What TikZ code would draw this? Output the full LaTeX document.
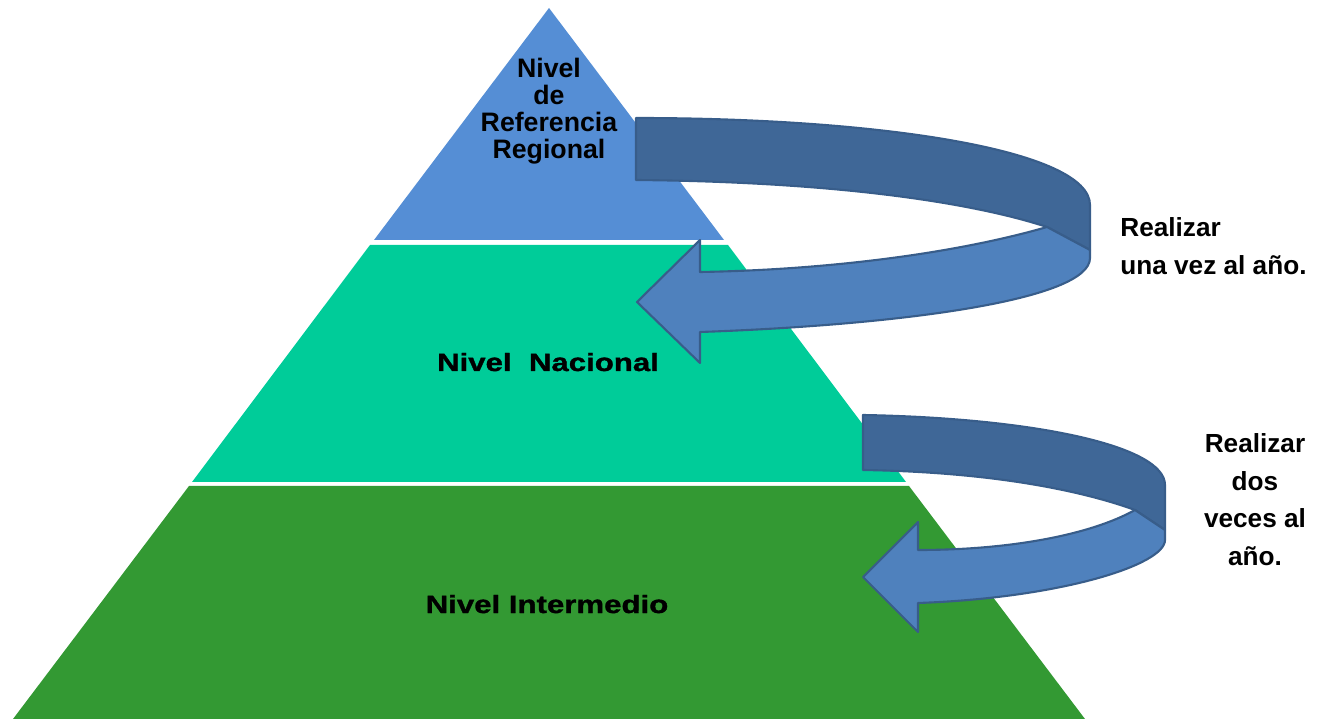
\documentclass[tikz,border=0pt]{standalone}
\usepackage{fontspec}
\setmainfont{Liberation Sans}
\newfontfamily\widefont[FakeStretch=1.25, BoldFeatures={FakeBold=1.3}]{Liberation Sans}
\usepackage{tikz}
\usetikzlibrary{calc}
\definecolor{topblue}{HTML}{558ED5}
\definecolor{midgreen}{HTML}{00CC99}
\definecolor{lowgreen}{HTML}{339933}
\definecolor{bandback}{HTML}{3F6797}
\definecolor{bandfront}{HTML}{4F81BD}
\definecolor{bandline}{HTML}{385D8A}
\tikzset{
  back/.style={fill=bandback, draw=bandline, line width=1.2pt, line join=round},
  front/.style={fill=bandfront, draw=bandline, line width=1.2pt, line join=round},
  lvl/.style={font=\bfseries\fontsize{15.2}{15.3}\selectfont, inner sep=0pt, align=center},
  wide/.style={font=\widefont\bfseries\fontsize{14.2}{16}\selectfont, inner sep=0pt},
  note/.style={font=\bfseries\fontsize{14.9}{21.5}\selectfont, inner sep=0pt}
}

\begin{document}
\begin{tikzpicture}[x=0.02cm, y=-0.02cm]
  \useasboundingbox (0,0) rectangle (1319,719);

  % pyramid
  \coordinate (apex) at (549,8);
  \fill[topblue] (apex) -- (724,240) -- (374,240) -- cycle;
  \fill[midgreen] (370,245) -- (728,245) -- (906,482) -- (192,482) -- cycle;
  \fill[lowgreen] (189,486) -- (909,486) -- (1085,719) -- (13,719) -- cycle;

  % upper turn arrow
  \coordinate (ua) at (636,118);
  \coordinate (uf) at (1047,227);
  \draw[back] (ua) .. controls (880,118) and (1090,150) .. (1090,205)
    -- (1090,250) -- (uf)
    .. controls (980,205) and (850,182) .. (636,180) -- cycle;
  \draw[front] (uf) -- (1090,250) -- (1090,258)
    .. controls (1090,300) and (900,325) .. (700,332)
    -- (700,363) -- (637,302) -- (700,240) -- (700,272)
    .. controls (820,270) and (950,255) .. (uf) -- cycle;

  % lower turn arrow
  \coordinate (la) at (863,415);
  \coordinate (lf) at (1135,510);
  \draw[back] (la) .. controls (1030,418) and (1165,445) .. (1165,485)
    -- (1165,530) -- (lf)
    .. controls (1080,490) and (990,472) .. (863,470) -- cycle;
  \draw[front] (lf) -- (1165,530) -- (1165,540)
    .. controls (1165,565) and (1060,598) .. (918,603)
    -- (918,632) -- (863,577) -- (918,522) -- (918,550)
    .. controls (1010,550) and (1090,535) .. (lf) -- cycle;

  % labels
  \node[lvl, anchor=north] (regional) at (549,58) {Nivel\\de\\Referencia\\Regional};
  \node[wide, anchor=base] (nacional) at (548,371) {Nivel\ \ Nacional};
  \node[wide, anchor=base] (intermedio) at (547,613) {Nivel Intermedio};
  \node[note, anchor=north west, align=left] (anual) at (1120,217) {Realizar\\una vez al año.};
  \node[note, anchor=north, align=center] (semestral) at (1255,433) {Realizar\\dos\\veces al\\año.};
\end{tikzpicture}
\end{document}
